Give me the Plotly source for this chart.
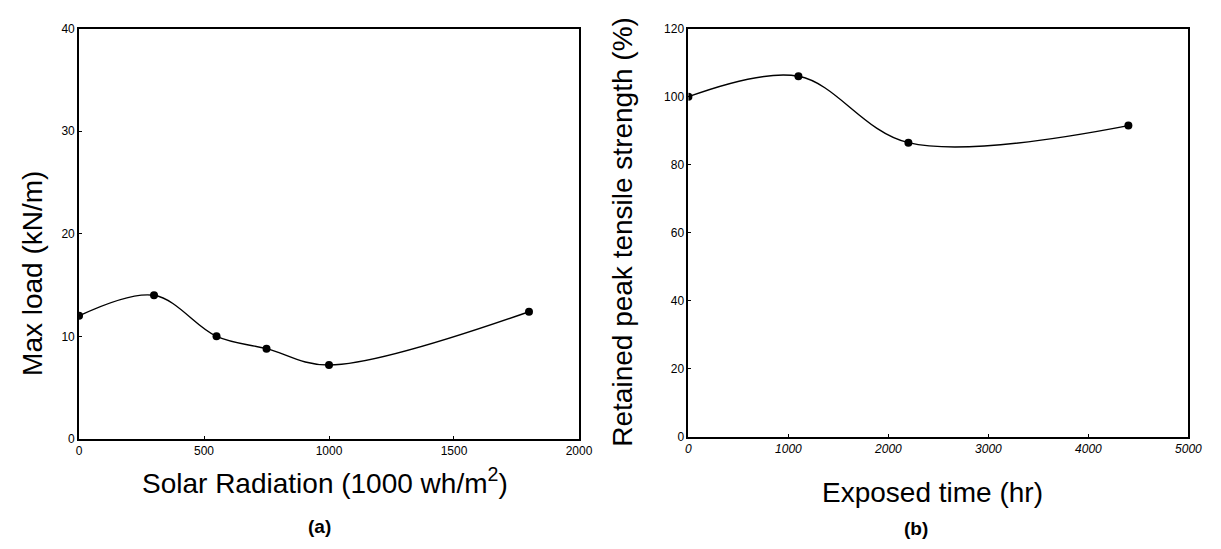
import plotly.graph_objects as go

# Panel (a)
solar_x = [0, 300, 550, 750, 1000, 1800]
max_load = [12.0, 14.0, 10.0, 8.8, 7.2, 12.4]
# Panel (b)
time_x = [0, 1100, 2200, 4400]
retained = [100.0, 106.0, 86.5, 91.5]

a_xticks = [0, 500, 1000, 1500, 2000]
a_yticks = [0, 10, 20, 30, 40]
b_xticks = [0, 1000, 2000, 3000, 4000, 5000]
b_yticks = [0, 20, 40, 60, 80, 100, 120]

W, H = 1221, 549
def px(x): return x / W
def py(y): return 1 - y / H

fig = go.Figure()
fig.add_trace(go.Scatter(x=solar_x, y=max_load, mode="lines+markers",
                         line=dict(color="black", width=1.4, shape="spline", smoothing=1.0),
                         marker=dict(color="black", size=8),
                         xaxis="x", yaxis="y", showlegend=False))
fig.add_trace(go.Scatter(x=time_x, y=retained, mode="lines+markers",
                         line=dict(color="black", width=1.4, shape="spline", smoothing=1.0),
                         marker=dict(color="black", size=8),
                         xaxis="x2", yaxis="y2", showlegend=False))

ax_common = dict(showgrid=False, zeroline=False, showline=True, linecolor="black",
                 linewidth=1.8, mirror=True, ticks="inside", ticklen=3, tickcolor="black")
tickfont = dict(family="Arial, Liberation Sans", size=12, color="black")
tickfont_i = dict(family="Arial, Liberation Sans", size=12, color="black", style="italic")

fig.update_layout(
    width=W, height=H, margin=dict(l=0, r=0, t=0, b=0),
    plot_bgcolor="white", paper_bgcolor="white",
    xaxis=dict(domain=[px(69), px(576)], range=[0, 2000], tickvals=a_xticks,
               anchor="y", tickfont=tickfont, **ax_common),
    yaxis=dict(domain=[py(435), py(14)], range=[0, 40], tickvals=a_yticks,
               anchor="x", tickfont=tickfont, **ax_common),
    xaxis2=dict(domain=[px(687), px(1194)], range=[0, 5000], tickvals=b_xticks,
                anchor="y2", tickfont=tickfont_i, **ax_common),
    yaxis2=dict(domain=[py(433), py(14)], range=[0, 120], tickvals=b_yticks,
                anchor="x2", tickfont=tickfont, **ax_common),
)

title_font = dict(family="Arial, Liberation Sans", size=28, color="black")
lab_font = dict(family="Arial, Liberation Sans", size=19, color="black")
ann = [
    dict(text="Solar Radiation (1000 wh/m<sup>2</sup>)", x=px(318), y=py(478), font=title_font),
    dict(text="Max load (kN/m)", x=px(22), y=py(265), font=title_font, textangle=-90),
    dict(text="Exposed time (hr)", x=px(935), y=py(490), font=title_font),
    dict(text="Retained peak tensile strength (%)", x=px(620), y=py(222), font=title_font, textangle=-90),
    dict(text="<b>(a)</b>", x=px(313), y=py(525), font=lab_font),
    dict(text="<b>(b)</b>", x=px(918), y=py(527), font=lab_font),
]
for a in ann:
    fig.add_annotation(xref="paper", yref="paper", showarrow=False,
                       xanchor="center", yanchor="middle", **a)

fig.write_html("out.html")
